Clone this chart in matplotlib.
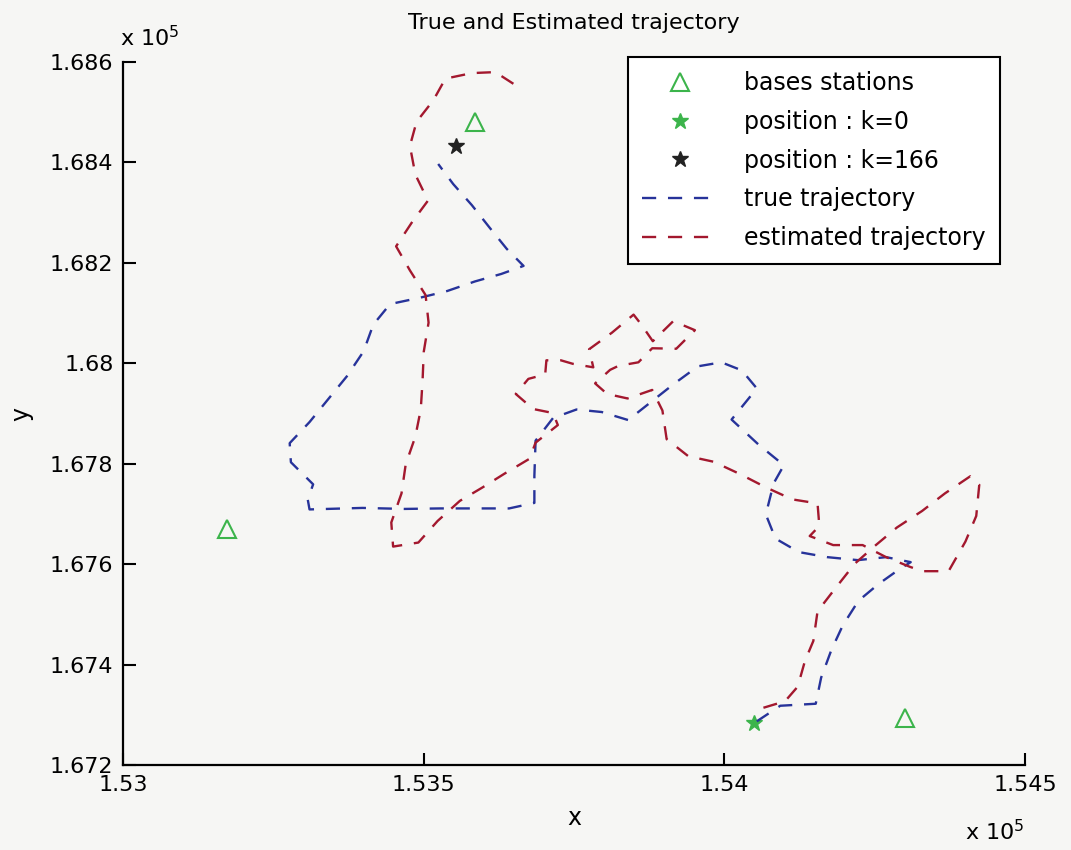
import matplotlib
matplotlib.use('Agg')
import matplotlib.pyplot as plt
from matplotlib.ticker import FuncFormatter

# stations de base
bs_x = [153172, 153586, 154301]
bs_y = [167671, 168480, 167293]

# position k=0 et k=166
p0_x, p0_y = [154049], [167283]
p166_x, p166_y = [153554], [168433]

# trajectoire vraie
true_x = [154054, 154093, 154152, 154161, 154178, 154197, 154223, 154256, 154290, 154310,
          154269, 154222, 154171, 154124, 154085, 154069, 154082, 154099, 154057, 154012,
          154054, 154029, 153995, 153956, 153915, 153878, 153840, 153796, 153754, 153715,
          153686, 153684, 153684, 153642, 153585, 153528, 153468, 153398, 153310, 153307,
          153316, 153279, 153277, 153310, 153342, 153372, 153400, 153416, 153444, 153495,
          153539, 153585, 153629, 153666, 153638, 153609, 153580, 153549, 153524]
true_y = [167287, 167318, 167322, 167374, 167429, 167478, 167527, 167560, 167589, 167604,
          167614, 167608, 167614, 167624, 167651, 167699, 167761, 167797, 167838, 167888,
          167950, 167986, 168002, 167994, 167958, 167923, 167887, 167903, 167908, 167891,
          167846, 167776, 167722, 167711, 167711, 167711, 167710, 167712, 167709, 167729,
          167759, 167803, 167841, 167883, 167930, 167974, 168024, 168077, 168118, 168131,
          168144, 168163, 168178, 168194, 168228, 168271, 168315, 168357, 168397]

# trajectoire estimée
est_x = [154065, 154101, 154122, 154134, 154148, 154155, 154184, 154217, 154251, 154287,
         154329, 154367, 154409, 154424, 154419, 154401, 154373, 154329, 154308, 154269,
         154230, 154181, 154142, 154158, 154155, 154113, 154069, 154025, 153982, 153940,
         153904, 153897, 153880, 153839, 153805, 153785, 153810, 153824, 153857, 153880,
         153920, 153951, 153915, 153881, 153862, 153849, 153813, 153775, 153782, 153748,
         153728, 153704, 153702, 153674, 153653, 153682, 153715, 153723, 153686, 153676,
         153634, 153598, 153560, 153523, 153491, 153449, 153446, 153463, 153470, 153486,
         153495, 153498, 153500, 153508, 153503, 153477, 153454, 153481, 153507, 153486,
         153477, 153488, 153516, 153536, 153580, 153619, 153650]
est_y = [167314, 167327, 167356, 167407, 167447, 167506, 167551, 167601, 167637, 167673,
         167706, 167741, 167775, 167758, 167696, 167645, 167586, 167586, 167595, 167614,
         167638, 167638, 167656, 167676, 167721, 167729, 167753, 167780, 167804, 167815,
         167849, 167906, 167947, 167930, 167939, 167960, 167987, 167995, 168002, 168030,
         168029, 168066, 168084, 168044, 168077, 168097, 168061, 168028, 167992, 167999,
         168006, 168006, 167978, 167969, 167939, 167909, 167901, 167877, 167842, 167810,
         167780, 167753, 167726, 167686, 167643, 167635, 167683, 167741, 167799, 167854,
         167908, 167965, 168023, 168081, 168136, 168185, 168233, 168282, 168324, 168376,
         168433, 168481, 168524, 168567, 168578, 168580, 168556]

xticks = [153000, 153500, 154000, 154500]
yticks = [167200, 167400, 167600, 167800, 168000, 168200, 168400, 168600]

plt.rcParams['font.family'] = ['DejaVu Sans']

fig = plt.figure(figsize=(10.71, 8.5), dpi=100, facecolor='#f6f6f4')
ax = fig.add_axes([0.115, 0.1, 0.842, 0.827])
ax.set_facecolor('#f6f6f4')

green = '#3cb44b'
ax.plot(bs_x, bs_y, linestyle='none', marker='^', markersize=13, markerfacecolor='none',
        markeredgecolor=green, markeredgewidth=1.5, label='bases stations')
ax.plot(p0_x, p0_y, linestyle='none', marker='*', markersize=12, color=green, label='position : k=0')
ax.plot(p166_x, p166_y, linestyle='none', marker='*', markersize=12, color='#222222',
        label='position : k=166')
ax.plot(true_x, true_y, color='#27339a', linewidth=1.7, linestyle='--', dashes=(6, 5),
        label='true trajectory')
ax.plot(est_x, est_y, color='#a3182e', linewidth=1.7, linestyle='--', dashes=(6, 5),
        label='estimated trajectory')

ax.set_xlim(153000, 154500)
ax.set_ylim(167200, 168600)
ax.set_xticks(xticks)
ax.set_yticks(yticks)
ax.xaxis.set_major_formatter(FuncFormatter(lambda v, _: f'{v / 1e5:g}'))
ax.yaxis.set_major_formatter(FuncFormatter(lambda v, _: f'{v / 1e5:g}'))
ax.tick_params(direction='in', length=9, width=1.5, labelsize=16, pad=7)

for side in ['top', 'right']:
    ax.spines[side].set_visible(False)
for side in ['left', 'bottom']:
    ax.spines[side].set_linewidth(1.6)

ax.set_title('True and Estimated trajectory', fontsize=16, pad=24)
ax.set_xlabel('x', fontsize=17, labelpad=8)
ax.set_ylabel('y', fontsize=17, labelpad=12)

fig.text(150 / 1071, 1 - 38 / 850, r'x 10$^5$', fontsize=16, ha='center', va='center')
fig.text(995 / 1071, 1 - 832 / 850, r'x 10$^5$', fontsize=16, ha='center', va='center')

leg = ax.legend(loc='upper left', bbox_to_anchor=(0.56, 1.007), borderaxespad=0,
                fontsize=17, numpoints=1, handlelength=3.2, handletextpad=1.1,
                labelspacing=0.62, borderpad=0.6,
                fancybox=False, framealpha=1, edgecolor='black', facecolor='white')
leg.get_frame().set_linewidth(1.5)

fig.savefig('out.png', dpi=100, facecolor=fig.get_facecolor())
